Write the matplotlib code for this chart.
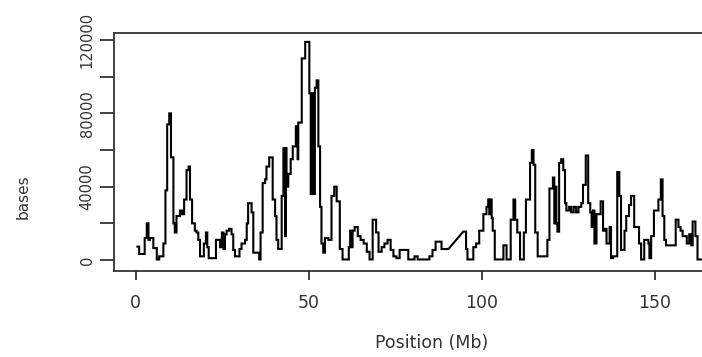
import numpy as np
import matplotlib
matplotlib.use("Agg")
import matplotlib.pyplot as plt

# ---- data: bin start (Mb) and bases per bin (thousands) ----
bin_start = [
    0.5, 1.0, 2.6, 3.2, 3.7, 4.1, 5.1, 6.1, 6.8, 8.0,
    8.6, 9.1, 9.7, 10.2, 10.9, 11.3, 11.8, 12.8, 13.4, 14.0,
    14.7, 15.3, 15.7, 16.3, 17.1, 17.6, 18.1, 18.6, 19.7, 20.3,
    20.7, 21.1, 23.2, 24.4, 24.9, 25.4, 25.8, 26.3, 27.0, 27.7,
    28.2, 28.7, 30.0, 30.6, 31.6, 32.1, 32.5, 33.5, 34.0, 35.7,
    36.1, 36.7, 37.4, 37.8, 38.6, 39.6, 40.3, 40.7, 41.2, 42.2,
    42.7, 43.2, 43.4, 43.6, 44.1, 44.8, 45.4, 46.3, 46.8, 47.0,
    48.0, 49.0, 50.2, 50.6, 51.0, 51.3, 51.8, 52.3, 52.8, 53.3,
    53.7, 54.2, 54.7, 55.7, 56.6, 57.4, 58.1, 59.0, 59.8, 61.6,
    62.0, 62.4, 62.7, 63.3, 64.2, 65.0, 65.9, 66.8, 67.6, 68.5,
    69.5, 70.2, 71.1, 71.9, 72.8, 73.7, 74.5, 75.4, 76.3, 78.8,
    80.6, 81.5, 84.9, 85.8, 86.7, 88.4,
    94.7, 95.5, 95.9, 97.6, 98.4, 99.3, 100.5, 101.4, 101.9, 102.2,
    102.6, 102.9, 103.2, 103.8, 106.3, 107.2, 108.4, 109.2, 109.7, 110.3,
    111.1, 112.2, 112.8, 114.0, 114.5, 115.0, 115.5, 116.2, 119.0, 119.6,
    120.6, 121.0, 121.3, 121.6, 121.9, 122.4, 123.0, 123.6, 124.1, 124.5,
    125.3, 125.9, 126.6, 127.3, 128.0, 128.8, 129.3, 130.1, 130.8, 131.4,
    131.8, 132.2, 132.6, 133.2, 134.4, 135.1, 135.6, 136.1, 137.0, 137.4,
    138.0, 139.2, 139.8, 140.3, 141.3, 141.8, 142.6, 143.2, 144.1, 145.5,
    146.1, 147.0, 148.2, 148.5, 149.0, 149.8, 151.1, 151.8, 152.3, 152.8,
    153.3, 156.1, 156.9, 157.5, 158.1, 159.3, 160.0, 160.6, 161.0, 161.8, 162.4,
]
bases_k = [
    7.3, 3.3, 12, 20, 11, 12, 6.5, 0.3, 2, 9,
    38, 74, 80, 56, 20, 15, 24, 27, 25, 33,
    49, 51, 33, 20, 16, 15, 11, 2, 9, 15,
    7, 1, 11, 7, 15, 6, 14, 16, 17, 14,
    5.5, 2, 6, 9, 11, 20, 31, 26, 4, 0.3,
    15, 42, 44, 51, 56, 33, 24, 11, 6, 35,
    61, 13, 61, 40, 47, 55, 62, 73, 55, 75,
    110, 119, 91, 36, 91, 36, 94, 98, 62, 29,
    9, 4, 12, 11, 35, 40, 32, 6, 0.3, 7,
    16, 7, 16, 18, 13, 11, 9, 4.5, 0.3, 22,
    15, 4.5, 7, 9, 11, 5.5, 2, 1, 5.5, 0.3,
    2, 0.3, 2, 5.5, 10, 6,
    15.5, 6, 0.3, 7, 9, 16, 25, 29, 33, 25,
    33, 23, 16, 0.3, 8, 0.3, 22, 33, 22, 15,
    0.3, 15, 33, 53, 60, 52, 15, 2, 11, 39,
    45, 20, 40, 20, 15.5, 53, 55, 49, 31, 27,
    29, 26, 29, 26, 29, 31, 41, 57, 31, 26,
    18, 27, 9, 25, 32, 16, 17, 9, 18, 1,
    2, 48, 35, 5.5, 16, 24, 30, 35, 18, 9,
    0.3, 11, 9, 1, 13, 27, 33, 44, 24, 11,
    8, 22, 18, 16, 13, 9, 14, 8, 21, 13, 0.3,
]
gap_start = 90.4      # end of the last bin before the unsequenced gap
track_end = 164.0     # end of the last bin
x_ticks = [0, 50, 100, 150]
y_ticks = [0, 20000, 40000, 60000, 80000, 100000, 120000]
y_tick_labels = ["0", "", "40000", "", "80000", "", "120000"]

# ---- build the step line (bins drawn as flat segments) ----
starts = np.array(bin_start)
vals = np.array(bases_k) * 1000.0
ends = np.append(starts[1:], track_end)
ends = np.where(ends - starts > 3.0, np.minimum(ends, gap_start), ends)
xs = np.column_stack([starts, ends]).ravel()
ys = np.column_stack([vals, vals]).ravel()

fig = plt.figure(figsize=(7.02, 3.57), dpi=100)
W, H = 702, 357
ax = fig.add_axes([114 / W, 1 - 271 / H, (W - 114) / W, (271 - 33.3) / H])
ax.plot(xs, ys, color="black", lw=1.5, solid_joinstyle="miter")

ax.set_xlim(-6.27, 163.7)
ax.set_ylim(-6000, 123700)

for s in ["left", "bottom", "top"]:
    ax.spines[s].set_linewidth(1.3)
    ax.spines[s].set_color("#333333")
ax.spines["right"].set_visible(False)

ax.set_xticks(x_ticks)
ax.set_xticklabels([str(t) for t in x_ticks], fontsize=12.5, color="#333333",
                   family="DejaVu Sans")
ax.set_yticks(y_ticks)
ax.set_yticklabels(y_tick_labels, fontsize=10.5, color="#333333",
                   family="DejaVu Sans", rotation=90, va="center")
ax.tick_params(axis="x", length=6.5, width=1.3, color="#333333", pad=10)
ax.tick_params(axis="y", length=10, width=1.3, color="#333333", pad=4)

fig.text(432 / W, 1 - 343 / H, "Position (Mb)", ha="center", va="center",
         fontsize=12.5, color="#333333", family="DejaVu Sans")
fig.text(23 / W, 1 - 197 / H, "bases", ha="center", va="center", rotation=90,
         fontsize=11, color="#333333", family="DejaVu Sans")

fig.savefig("out.png", dpi=100)
